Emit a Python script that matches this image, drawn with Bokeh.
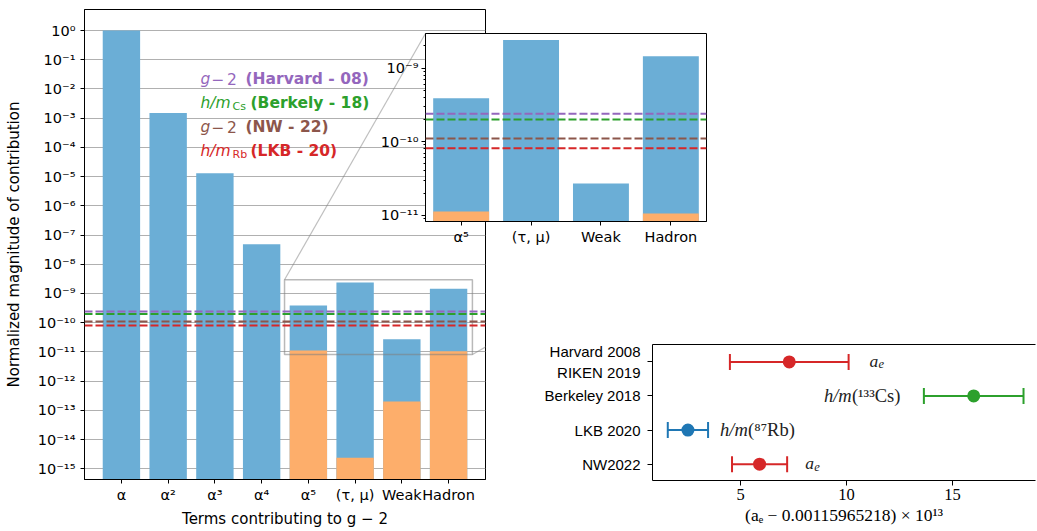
import math
from bokeh.plotting import figure
from bokeh.models import (Range1d, FixedTicker, CustomJSTickFormatter, Span, Label,
                          Arrow, LinearAxis)
from bokeh.layouts import row, column
from bokeh.embed import file_html
from bokeh.resources import INLINE

NAN = float("nan")

# ---------------- data ----------------
terms = ["α", "α²", "α³", "α⁴", "α⁵", "(τ, μ)", "Weak", "Hadron"]
contribution = [1.0, 1.5e-3, 1.3e-5, 4.8e-8, 3.9e-10, 2.4e-9, 2.7e-11, 1.45e-9]
uncertainty = [NAN, NAN, NAN, NAN, 1.12e-11, 2.4e-15, 2.0e-13, 1.05e-11]

exp_kind = ["g-2", "h/m", "g-2", "h/m"]
exp_sub = ["", "Cs", "", "Rb"]
exp_names = ["(Harvard - 08)", "(Berkely - 18)", "(NW - 22)", "(LKB - 20)"]
exp_precision = [2.4e-10, 2.0e-10, 1.1e-10, 8.1e-11]
exp_colors = ["#9467bd", "#2ca02c", "#8c564b", "#d62728"]

inset_x = [3.49, 7.51]
inset_y = [8.2e-12, 2.95e-9]

meas_names = ["NW2022", "LKB 2020", "Berkeley 2018", "Harvard 2008\nRIKEN 2019"]
meas_pos = [0, 1, 2, 3]
meas_values = [5.9, 2.52, 16.0, 7.3]
meas_errors = [1.3, 0.95, 2.35, 2.8]
meas_colors = ["#d62728", "#1f77b4", "#2ca02c", "#d62728"]
meas_tag_main = ["a", "h/m", "h/m", "a"]
meas_tag_rest = ["e", "(⁸⁷Rb)", "(¹³³Cs)", "e"]

BLUE = "#6baed6"
ORANGE = "#fdae6b"
SANS = "DejaVu Sans"
SERIF = "Liberation Serif"

sup_js = """
const sup = {"-": "\u207b", "0": "\u2070", "1": "\u00b9", "2": "\u00b2", "3": "\u00b3",
             "4": "\u2074", "5": "\u2075", "6": "\u2076", "7": "\u2077", "8": "\u2078", "9": "\u2079"};
const e = Math.round(Math.log10(tick));
let s = "10";
for (const c of String(e)) s += sup[c];
return s;
"""

# ---------------- layout geometry (page pixels) ----------------
PAGE_W, PAGE_H = 1037, 530
FL, FR, FT, FB = 84, 485, 9, 479          # main frame
XM = (-0.79, 7.79)
YM = (10 ** -15.366, 10 ** 0.719)
IL, IR, IT, IB = 425, 706, 33, 221        # inset frame
EL, ET, EB_BOT = 652, 344, 480            # error-bar frame left / top / bottom
SIDE_L, SIDE_R = 111, 2                   # shared left/right borders of the right column
MAIN_W = IR + 5


def mx(px):
    return XM[0] + (px - FL) * (XM[1] - XM[0]) / (FR - FL)


def my(py):
    l0, l1 = math.log10(YM[0]), math.log10(YM[1])
    return 10 ** (l1 - (py - FT) * (l1 - l0) / (FB - FT))


def style_axis(ax, size="14px", font=SANS, label_size="15px"):
    ax.axis_line_color = "black"
    ax.major_tick_line_color = "black"
    ax.minor_tick_line_color = "black"
    ax.major_label_text_color = "black"
    ax.major_label_text_font = font
    ax.major_label_text_font_size = size
    ax.axis_label_text_font = font
    ax.axis_label_text_font_size = label_size
    ax.axis_label_text_font_style = "normal"
    ax.axis_label_text_color = "black"
    ax.major_tick_in = 0
    ax.minor_tick_in = 0


# ---------------- main figure ----------------
idx = list(range(len(terms)))
main = figure(width=MAIN_W, height=PAGE_H, x_range=Range1d(*XM), y_range=Range1d(*YM),
              y_axis_type="log", output_backend="svg", toolbar_location=None,
              title=None, min_border_left=FL, min_border_right=MAIN_W - FR,
              min_border_top=FT, min_border_bottom=PAGE_H - FB,
              outline_line_color="black", background_fill_color="white",
              border_fill_color="white")
main.vbar(x=idx, top=contribution, bottom=1e-30, width=0.8, fill_color=BLUE, line_color=None)
main.vbar(x=idx, top=uncertainty, bottom=1e-30, width=0.8, fill_color=ORANGE, line_color=None)

ymaj = [10.0 ** -k for k in range(16)]
main.yaxis.ticker = FixedTicker(ticks=ymaj)
main.yaxis.formatter = CustomJSTickFormatter(code=sup_js)
main.ygrid.ticker = FixedTicker(ticks=ymaj)
main.ygrid.grid_line_color = "#b0b0b0"
main.ygrid.grid_line_width = 1.2
main.xgrid.visible = False
main.xaxis.ticker = FixedTicker(ticks=idx)
main.xaxis.major_label_overrides = {i: t for i, t in enumerate(terms)}
for ax in (main.xaxis[0], main.yaxis[0]):
    style_axis(ax, size="14.5px")
    ax.major_tick_out = 4
    ax.minor_tick_out = 0
main.xaxis.major_label_standoff = 3
main.xaxis.axis_label = "Terms contributing to g − 2"
main.xaxis.axis_label_standoff = 4
main.yaxis.major_label_standoff = 5
main.yaxis.axis_label = "Normalized magnitude of contribution"
main.yaxis.axis_label_standoff = 12

for v, c in zip(exp_precision, exp_colors):
    main.add_layout(Span(location=v, dimension="width", line_color=c,
                         line_dash="8 3", line_width=2))

# zoom indicator box and connectors
main.quad(left=[inset_x[0]], right=[inset_x[1]], bottom=[inset_y[0]], top=[inset_y[1]],
          fill_color=None, line_color="gray", line_alpha=0.55, line_width=1.5)
main.add_layout(Arrow(x_start=inset_x[0], y_start=inset_y[1], x_end=mx(IL), y_end=my(IT),
                      start=None, end=None, line_color="gray", line_alpha=0.5, line_width=1.2))
main.add_layout(Arrow(x_start=inset_x[1], y_start=inset_y[0], x_end=mx(IR), y_end=my(IB),
                      start=None, end=None, line_color="gray", line_alpha=0.5, line_width=1.2))

# experiment labels
LS = "15.5px"
for i, (kind, sub, name, c) in enumerate(zip(exp_kind, exp_sub, exp_names, exp_colors)):
    base = 78 + 24 * i

    def lab(px, txt, style="normal", size=LS, dy=0):
        main.add_layout(Label(x=mx(px), y=my(base + dy), text=txt, text_font=SANS,
                              text_font_size=size, text_font_style=style, text_color=c,
                              text_baseline="alphabetic", text_align="left"))
    if kind == "g-2":
        lab(200, "g", "italic")
        lab(211, "−")
        lab(226.5, "2")
        lab(245, name, "bold")
    else:
        lab(200, "h/m", "italic")
        lab(232, sub, size="11px", dy=3.5)
        lab(250, name, "bold")

# ---------------- inset ----------------
INSET_TOP = IT - 5
inset = figure(width=SIDE_L + (IR - IL) + SIDE_R, height=(IB - IT) + 35,
               x_range=Range1d(*inset_x), y_range=Range1d(*inset_y), y_axis_type="log",
               output_backend="svg", toolbar_location=None, title=None,
               min_border_left=SIDE_L, min_border_right=SIDE_R, min_border_top=5,
               min_border_bottom=30,
               outline_line_color="black", background_fill_color="white",
               border_fill_color=None, margin=(INSET_TOP, 0, 0, 0))
inset.vbar(x=idx, top=contribution, bottom=1e-30, width=0.8, fill_color=BLUE, line_color=None)
inset.vbar(x=idx, top=uncertainty, bottom=1e-30, width=0.8, fill_color=ORANGE, line_color=None)
for v, c in zip(exp_precision, exp_colors):
    inset.add_layout(Span(location=v, dimension="width", line_color=c,
                          line_dash="8 3", line_width=2))
inset.grid.visible = False
inset.yaxis.ticker = FixedTicker(ticks=[1e-11, 1e-10, 1e-9],
                                 minor_ticks=[m * 10.0 ** e for e in (-12, -11, -10, -9)
                                              for m in range(2, 10)])
inset.yaxis.formatter = CustomJSTickFormatter(code=sup_js)
inset.xaxis.ticker = FixedTicker(ticks=idx[4:])
inset.xaxis.major_label_overrides = {i: terms[i] for i in idx[4:]}
for ax in (inset.xaxis[0], inset.yaxis[0]):
    style_axis(ax, size="14.5px")
    ax.major_tick_out = 4
    ax.minor_tick_out = 2
inset.xaxis.minor_tick_out = 0
inset.xaxis.major_label_standoff = 3
inset.yaxis.major_label_standoff = 3

# ---------------- error-bar panel ----------------
col_left = IL - SIDE_L
eb_left = EL - SIDE_L
EB_W = PAGE_W - eb_left
EB_TOP = ET - 4
EB_H = PAGE_H - EB_TOP
inset_bottom = INSET_TOP + (IB - IT) + 35
ex_unit = 21.2                            # px per x unit, tick 5 at page x 740
eb = figure(width=EB_W, height=EB_H,
            x_range=Range1d(5 - (740 - EL) / ex_unit, 5 + (PAGE_W - SIDE_R - 740) / ex_unit),
            y_range=Range1d(-0.48, 3.51),
            output_backend="svg", toolbar_location=None, title=None,
            min_border_left=SIDE_L, min_border_right=SIDE_R, min_border_top=4,
            min_border_bottom=PAGE_H - EB_BOT,
            outline_line_color=None, background_fill_color="white", border_fill_color=None,
            margin=(EB_TOP - inset_bottom, 0, 0, eb_left - col_left))
lo = [v - e for v, e in zip(meas_values, meas_errors)]
hi = [v + e for v, e in zip(meas_values, meas_errors)]
eb.segment(x0=lo, x1=hi, y0=meas_pos, y1=meas_pos, line_color=meas_colors, line_width=2)
eb.scatter(x=lo + hi, y=meas_pos + meas_pos, marker="dash", angle=math.pi / 2, size=16,
           line_color=meas_colors + meas_colors, line_width=2)
eb.scatter(x=meas_values, y=meas_pos, size=13, fill_color=meas_colors, line_color=None)
eb.grid.visible = False
eb.yaxis.ticker = FixedTicker(ticks=meas_pos)
eb.yaxis.major_label_overrides = {p: n for p, n in zip(meas_pos, meas_names)}
eb.xaxis.ticker = FixedTicker(ticks=[5, 10, 15])
style_axis(eb.yaxis[0], size="15px", font="Liberation Sans")
style_axis(eb.xaxis[0], size="16.5px", font=SERIF, label_size="17.5px")
for ax in (eb.xaxis[0], eb.yaxis[0]):
    ax.major_tick_out = 5
    ax.minor_tick_out = 0
eb.yaxis.major_label_standoff = 7
eb.xaxis.major_label_standoff = 3
eb.xaxis.axis_label = "(aₑ − 0.00115965218) × 10¹³"
eb.xaxis.axis_label_standoff = 2
top_ax = LinearAxis(ticker=FixedTicker(ticks=[]), axis_line_color="black",
                    major_tick_line_color=None, minor_tick_line_color=None,
                    major_tick_out=0, minor_tick_out=0, major_label_standoff=0)
eb.add_layout(top_ax, "above")

# tags next to the measurements
gaps = [18, 12, 14, 21]
for p, v, e, c, tm, tr, g in zip(meas_pos, meas_values, meas_errors, meas_colors,
                                  meas_tag_main, meas_tag_rest, gaps):
    right_side = v < 12
    if tm == "a":
        eb.add_layout(Label(x=v + e, y=p, x_offset=g, y_offset=1, text="a",
                            text_font=SERIF, text_font_style="italic", text_font_size="17.5px",
                            text_baseline="alphabetic", text_color="#222222"))
        eb.add_layout(Label(x=v + e, y=p, x_offset=g + 9, y_offset=-2.5, text=tr,
                            text_font=SERIF, text_font_style="italic", text_font_size="12.5px",
                            text_baseline="alphabetic", text_color="#222222"))
    else:
        w_main = 28
        w_rest = 58 if "Cs" in tr else 52
        start = g if right_side else -(g + w_main + w_rest)
        anchor = v + e if right_side else v - e
        eb.add_layout(Label(x=anchor, y=p, x_offset=start, y_offset=0, text=tm,
                            text_font=SERIF, text_font_style="italic", text_font_size="18.5px",
                            text_baseline="alphabetic", text_color="#222222"))
        eb.add_layout(Label(x=anchor, y=p, x_offset=start + w_main, y_offset=0, text=tr,
                            text_font=SERIF, text_font_size="18.5px",
                            text_baseline="alphabetic", text_color="#222222"))

right_col = column(inset, eb, margin=(0, 0, 0, col_left - MAIN_W))
layout = row(main, right_col)

open("out.html", "w").write(file_html(layout, INLINE))
